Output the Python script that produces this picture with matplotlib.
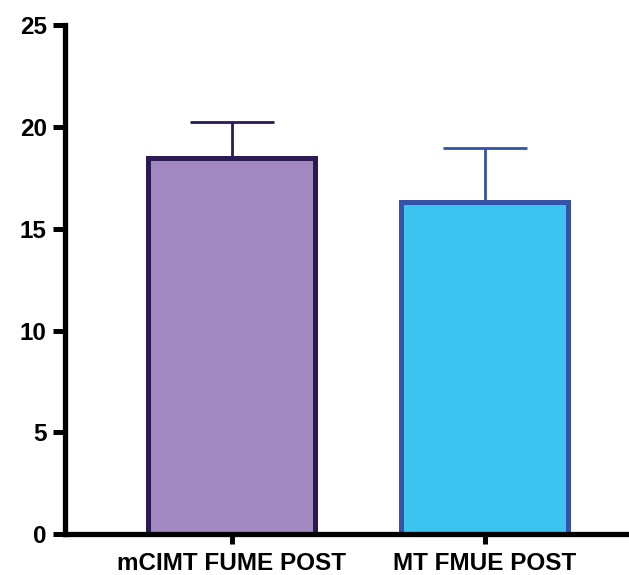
import numpy as np
import matplotlib.pyplot as plt

plt.rcParams['font.family'] = ['Liberation Sans', 'DejaVu Sans']
plt.rcParams['font.weight'] = 'bold'

groups = ['mCIMT FUME POST', 'MT FMUE POST']
means = [18.5, 16.3]
err_up = [1.75, 2.65]
fills = ['#A288C0', '#3CC4F0']
edges = ['#2A1B52', '#3452A8']

fig = plt.figure(figsize=(6.29, 5.75), dpi=100)
ax = fig.add_axes([0.103, 0.071, 0.897, 0.885])

x = np.arange(len(groups))
for i in range(len(groups)):
    ax.bar(x[i], means[i], width=0.66, color=fills[i], edgecolor=edges[i],
           linewidth=3.6, zorder=2)
    ax.errorbar(x[i], means[i], yerr=[[0], [err_up[i]]], color=edges[i],
                capsize=30, elinewidth=2, capthick=2, zorder=3)

ax.set_ylim(0, 25)
ax.set_xlim(-0.66, 1.57)
ax.set_yticks([0, 5, 10, 15, 20, 25])
ax.set_xticks(x)
ax.set_xticklabels(groups, fontsize=17.5, fontweight='bold')
ax.tick_params(axis='y', labelsize=17.5, width=3.6, length=9, pad=4)
ax.tick_params(axis='x', width=3.6, length=7, pad=6)
for lab in ax.get_yticklabels():
    lab.set_fontweight('bold')

for s in ['top', 'right']:
    ax.spines[s].set_visible(False)
for s in ['left', 'bottom']:
    ax.spines[s].set_linewidth(3.8)

fig.savefig('out.png', dpi=100)
